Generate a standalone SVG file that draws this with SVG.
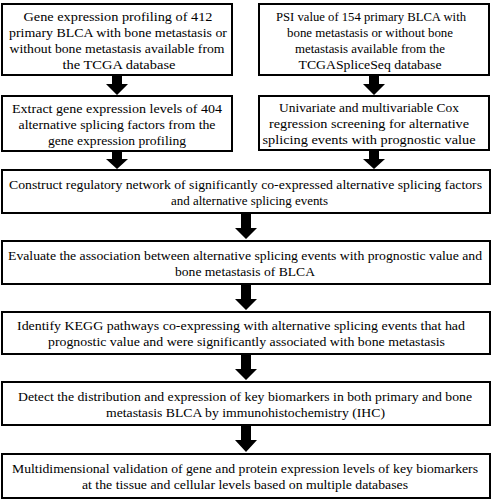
<svg xmlns="http://www.w3.org/2000/svg" width="496" height="500" viewBox="0 0 496 500">
<style>
.box{fill:#fff;stroke:#000;stroke-width:2}
.t{font-family:"Liberation Serif","Times New Roman",serif;font-size:13.5px;fill:#000;text-anchor:middle}
.arr{fill:#000}
</style>
<rect width="496" height="500" fill="#fff"/>
<g id="connectors">
<polygon class="arr" points="112,76 122,76 122,84 128,84 117,95 106,84 112,84"/>
<polygon class="arr" points="369,76 379,76 379,84 385,84 374,95 363,84 369,84"/>
<polygon class="arr" points="112,152 122,152 122,159 128,159 117,169 106,159 112,159"/>
<polygon class="arr" points="369,151 379,151 379,159 385,159 374,169 363,159 369,159"/>
<polygon class="arr" points="241,214 251,214 251,228 257,228 246,239 235,228 241,228"/>
<polygon class="arr" points="241,285 251,285 251,299 257,299 246,310 235,299 241,299"/>
<polygon class="arr" points="241,355 251,355 251,369 257,369 246,380 235,369 241,369"/>
<polygon class="arr" points="241,426 251,426 251,440 257,440 246,452 235,440 241,440"/>
</g>
<g id="n1">
<rect class="box" x="2" y="4" width="230" height="71"/>
<text class="t" x="118" y="20.5" textLength="189" lengthAdjust="spacingAndGlyphs">Gene expression profiling of 412</text>
<text class="t" x="118" y="36.5" textLength="218" lengthAdjust="spacingAndGlyphs">primary BLCA with bone metastasis or</text>
<text class="t" x="117" y="52.5" textLength="215" lengthAdjust="spacingAndGlyphs">without bone metastasis available from</text>
<text class="t" x="119" y="68.5" textLength="113" lengthAdjust="spacingAndGlyphs">the TCGA database</text>
</g>
<g id="n2">
<rect class="box" x="259" y="4" width="230" height="71"/>
<text class="t" x="371" y="20.5" textLength="190" lengthAdjust="spacingAndGlyphs">PSI value of 154 primary BLCA with</text>
<text class="t" x="370" y="36.5" textLength="166" lengthAdjust="spacingAndGlyphs">bone metastasis or without bone</text>
<text class="t" x="370" y="52.5" textLength="150" lengthAdjust="spacingAndGlyphs">metastasis available from the</text>
<text class="t" x="370" y="68.5" textLength="143" lengthAdjust="spacingAndGlyphs">TCGASpliceSeq database</text>
</g>
<g id="n3">
<rect class="box" x="2" y="96" width="230" height="55"/>
<text class="t" x="117" y="112.5" textLength="210" lengthAdjust="spacingAndGlyphs">Extract gene expression levels of 404</text>
<text class="t" x="117" y="128.5" textLength="197" lengthAdjust="spacingAndGlyphs">alternative splicing factors from the</text>
<text class="t" x="117" y="144.5" textLength="138" lengthAdjust="spacingAndGlyphs">gene expression profiling</text>
</g>
<g id="n4">
<rect class="box" x="259" y="96" width="230" height="54"/>
<text class="t" x="369" y="112" textLength="180" lengthAdjust="spacingAndGlyphs">Univariate and  multivariable Cox</text>
<text class="t" x="369" y="128" textLength="200" lengthAdjust="spacingAndGlyphs">regression screening for alternative</text>
<text class="t" x="369" y="144" textLength="213" lengthAdjust="spacingAndGlyphs">splicing events with prognostic value</text>
</g>
<g id="n5">
<rect class="box" x="2" y="170" width="488" height="43"/>
<text class="t" x="245.5" y="188.5" textLength="473" lengthAdjust="spacingAndGlyphs">Construct regulatory network of significantly co-expressed alternative splicing factors</text>
<text class="t" x="249.5" y="204.5" textLength="157" lengthAdjust="spacingAndGlyphs">and alternative splicing events</text>
</g>
<g id="n6">
<rect class="box" x="2" y="241" width="488" height="43"/>
<text class="t" x="245" y="259.5" textLength="474" lengthAdjust="spacingAndGlyphs">Evaluate the association between alternative splicing events with prognostic value and</text>
<text class="t" x="245" y="275.5" textLength="140" lengthAdjust="spacingAndGlyphs">bone metastasis of BLCA</text>
</g>
<g id="n7">
<rect class="box" x="2" y="312" width="488" height="42"/>
<text class="t" x="241" y="330" textLength="448" lengthAdjust="spacingAndGlyphs">Identify KEGG pathways co-expressing with alternative splicing events that had</text>
<text class="t" x="246.5" y="346" textLength="397" lengthAdjust="spacingAndGlyphs">prognostic value and were significantly associated with bone metastasis</text>
</g>
<g id="n8">
<rect class="box" x="2" y="382" width="488" height="43"/>
<text class="t" x="245" y="400.5" textLength="454" lengthAdjust="spacingAndGlyphs">Detect the distribution and expression of key biomarkers in both primary and bone</text>
<text class="t" x="245.5" y="416.5" textLength="279" lengthAdjust="spacingAndGlyphs">metastasis BLCA by immunohistochemistry (IHC)</text>
</g>
<g id="n9">
<rect class="box" x="2" y="454" width="488" height="44"/>
<text class="t" x="245" y="473" textLength="466" lengthAdjust="spacingAndGlyphs">Multidimensional validation of gene and protein expression levels of key biomarkers</text>
<text class="t" x="245" y="489" textLength="326" lengthAdjust="spacingAndGlyphs">at the tissue and cellular levels based on multiple databases</text>
</g>
</svg>
